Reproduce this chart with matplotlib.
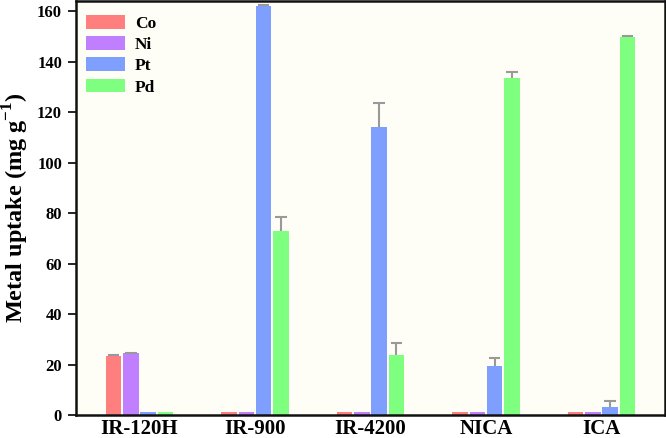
import matplotlib
matplotlib.use("Agg")
import matplotlib.pyplot as plt
import numpy as np

categories = ["IR-120H", "IR-900", "IR-4200", "NICA", "ICA"]
series = ["Co", "Ni", "Pt", "Pd"]
co = [23.3, 1.0, 1.0, 1.0, 1.0]
ni = [24.4, 1.0, 1.0, 1.0, 1.0]
pt = [1.2, 162.0, 114.3, 19.3, 3.3]
pd_ = [1.0, 73.0, 23.8, 133.7, 149.9]
co_err = [0.3, 0.0, 0.0, 0.0, 0.0]
ni_err = [0.3, 0.0, 0.0, 0.0, 0.0]
pt_err = [0.0, 0.4, 9.5, 3.4, 2.2]
pd_err = [0.0, 5.3, 4.8, 2.1, 0.3]
colors = ["#ff7f7f", "#bf7fff", "#7f9fff", "#7fff7f"]

plt.rcParams['font.family'] = ['Liberation Serif', 'DejaVu Serif']
plt.rcParams['font.weight'] = 'bold'
plt.rcParams['mathtext.fontset'] = 'custom'
plt.rcParams['mathtext.rm'] = 'Liberation Serif:bold'
plt.rcParams['mathtext.bf'] = 'Liberation Serif:bold'

fig = plt.figure(figsize=(6.66, 4.38), dpi=100)
ax = fig.add_axes([0.114, 0.0525, 0.8845, 0.945])
ax.set_facecolor("#fffef6")

x = np.arange(len(categories))
step = 0.149
width = 0.134
cap = 0.05
vals = [co, ni, pt, pd_]
errs = [co_err, ni_err, pt_err, pd_err]
for i, (v, e, c, name) in enumerate(zip(vals, errs, colors, series)):
    xs = x + (i - 1.5) * step
    ax.bar(xs, v, width, color=c, label=name, zorder=2)
    e = np.array(e)
    v = np.array(v)
    m = e > 0
    ax.vlines(xs[m], v[m], v[m] + e[m], colors="#999999", linewidth=1.5, zorder=3)
    ax.hlines(v[m] + e[m], xs[m] - cap, xs[m] + cap, colors="#999999", linewidth=1.5, zorder=3)

ax.set_xlim(-0.55, 4.55)
ax.set_ylim(0, 164)
ax.set_yticks(range(0, 161, 20))
ax.set_xticks(x)
ax.set_xticklabels(categories, fontsize=15, fontweight='bold')
ax.tick_params(axis='x', length=0, pad=3)
ax.tick_params(axis='y', direction='out', length=6, width=1.2, labelsize=12, pad=4)
for lab in ax.get_yticklabels():
    lab.set_fontweight('bold')
for s in ax.spines.values():
    s.set_linewidth(1.8)
    s.set_color("#111111")

ax.set_ylabel("Metal uptake (mg g$^{\\mathbf{-1}}$)", fontsize=17.5, fontweight='bold', labelpad=4)

leg = ax.legend(loc='upper left', bbox_to_anchor=(0.0, 0.992), frameon=False,
                handlelength=2.2, handleheight=0.85, labelspacing=0.25,
                prop={'weight': 'bold', 'size': 12.5}, borderaxespad=0.2, handletextpad=0.6)

fig.savefig("out.png", dpi=100, facecolor="white")
